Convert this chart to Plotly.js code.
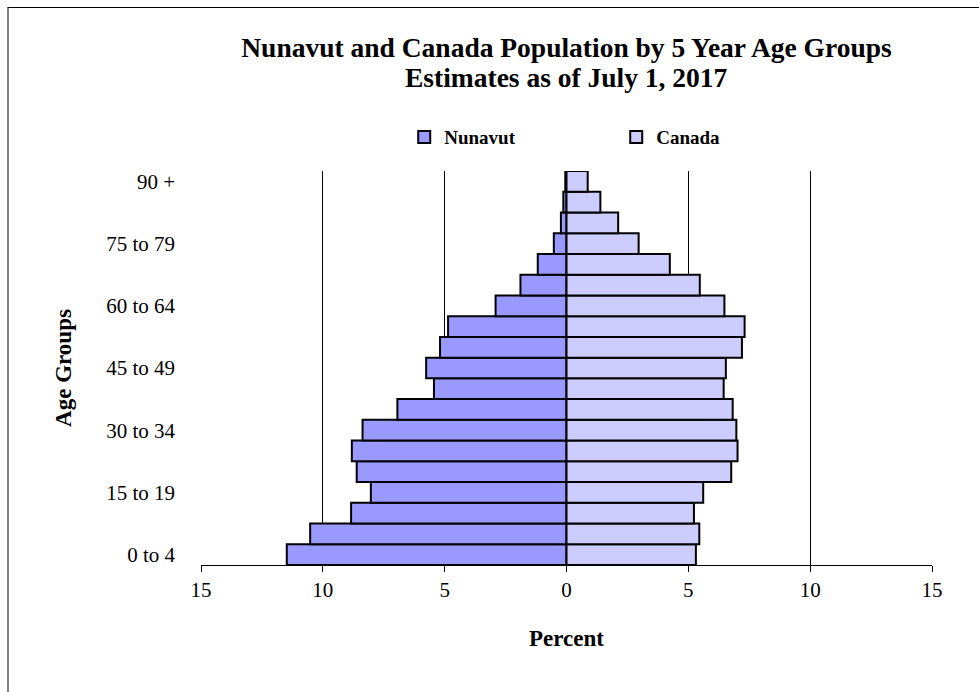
<!DOCTYPE html>
<html>
<head>
<meta charset="utf-8">
<script src="https://cdn.plot.ly/plotly-3.0.1.min.js"></script>
<style>
  html, body { margin: 0; padding: 0; background: #fff; overflow: hidden; }
  #frame { position: absolute; left: 7px; top: 7px; width: 1100px; height: 800px;
           border-top: 1px solid #000; border-left: 2px solid #808080; }
  #chart { position: absolute; left: 0; top: 0; width: 979px; height: 692px; }
</style>
</head>
<body>
<div id="frame"></div>
<div id="chart"></div>
<script>
// Age groups, bottom (youngest) to top (oldest)
const ageGroups = ["0 to 4", "5 to 9", "10 to 14", "15 to 19", "20 to 24", "25 to 29",
  "30 to 34", "35 to 39", "40 to 44", "45 to 49", "50 to 54", "55 to 59", "60 to 64",
  "65 to 69", "70 to 74", "75 to 79", "80 to 84", "85 to 89", "90 +"];
// Percent of population in each age group
const nunavutPct = [11.48, 10.52, 8.84, 8.03, 8.61, 8.81, 8.37, 6.94, 5.44, 5.76,
  5.19, 4.86, 2.91, 1.89, 1.18, 0.52, 0.23, 0.13, 0.05];
const canadaPct = [5.31, 5.45, 5.23, 5.61, 6.76, 7.02, 6.97, 6.82, 6.45, 6.54,
  7.20, 7.31, 6.48, 5.47, 4.24, 2.96, 2.12, 1.39, 0.87];
const shownAgeLabels = ["0 to 4", "15 to 19", "30 to 34", "45 to 49", "60 to 64", "75 to 79", "90 +"];
const xTickVals = [-15, -10, -5, 0, 5, 10, 15];
const xTickText = ["15", "10", "5", "0", "5", "10", "15"];
const titleLine1 = "Nunavut and Canada Population by 5 Year Age Groups";
const titleLine2 = "Estimates as of July 1, 2017";

const serif = "Liberation Serif, Times New Roman, serif";

const traces = [
  {
    type: "bar", orientation: "h", name: "<b>Nunavut</b>",
    y: ageGroups, x: nunavutPct.map(v => -v),
    marker: { color: "#9999FF", line: { color: "#000000", width: 2 } }
  },
  {
    type: "bar", orientation: "h", name: "<b>Canada</b>",
    y: ageGroups, x: canadaPct,
    marker: { color: "#CCCCFF", line: { color: "#000000", width: 2 } }
  }
];

const layout = {
  width: 979, height: 692,
  paper_bgcolor: "rgba(0,0,0,0)", plot_bgcolor: "#ffffff",
  margin: { l: 201, r: 47, t: 171, b: 127 },
  barmode: "overlay", bargap: 0,
  font: { family: serif, color: "#000" },
  title: {
    text: "<b>" + titleLine1 + "</b>",
    font: { family: serif, size: 27.5, color: "#000" },
    x: 0.5, xref: "paper", xanchor: "center", y: 1 - 47 / 692, yref: "container", yanchor: "middle"
  },
  annotations: [{
    text: "<b>" + titleLine2 + "</b>", showarrow: false,
    xref: "paper", x: 0.5, xanchor: "center",
    yref: "paper", y: 1 + (171 - 78) / 394, yanchor: "middle",
    font: { family: serif, size: 27.5, color: "#000" }
  }],
  showlegend: true,
  legend: {
    orientation: "h", x: 0.278, xanchor: "left", y: 1.086, yanchor: "middle",
    font: { family: serif, size: 19, color: "#000" },
    entrywidth: 167, entrywidthmode: "pixels",
    itemwidth: 30, traceorder: "normal", bgcolor: "rgba(0,0,0,0)"
  },
  xaxis: {
    range: [-15, 15], tickvals: xTickVals, ticktext: xTickText,
    showgrid: true, gridcolor: "#000", gridwidth: 1,
    zeroline: false, showline: true, linecolor: "#000", linewidth: 1,
    ticks: "outside", ticklen: 6, tickcolor: "#000",
    tickfont: { family: serif, size: 21, color: "#000" },
    title: { text: "<b>Percent</b>", font: { family: serif, size: 23, color: "#000" }, standoff: 28 }
  },
  yaxis: {
    type: "category", categoryorder: "array", categoryarray: ageGroups,
    tickvals: shownAgeLabels, ticktext: shownAgeLabels,
    showgrid: false, zeroline: false, showline: false, ticks: "",
    ticklabelstandoff: 25,
    tickfont: { family: serif, size: 21, color: "#000" },
    title: { text: "<b>Age Groups</b>", font: { family: serif, size: 23, color: "#000" }, standoff: 28 }
  }
};

Plotly.newPlot("chart", traces, layout, { displayModeBar: false, staticPlot: true });
</script>
</body>
</html>
